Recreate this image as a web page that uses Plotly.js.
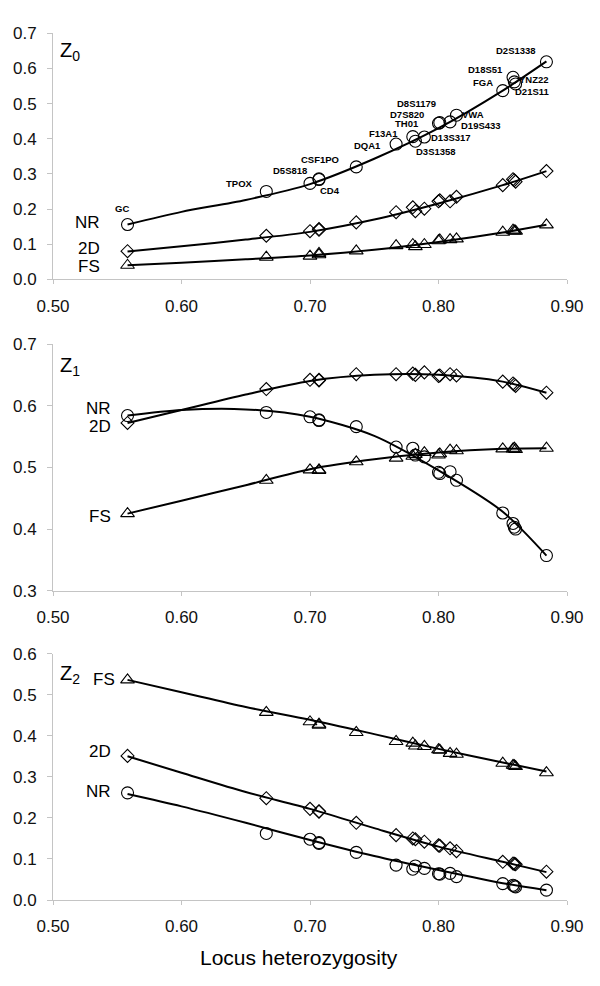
<!DOCTYPE html>
<html>
<head>
<meta charset="utf-8">
<script src="https://cdn.plot.ly/plotly-3.0.1.min.js"></script>
<style>
  html, body { margin: 0; padding: 0; background: #fff; }
  #chart { width: 600px; height: 986px; }
</style>
</head>
<body>
<div id="chart"></div>
<script>
// ---- Data ----
const loci = ["GC","TPOX","D5S818","CSF1PO","CD4","DQA1","F13A1","TH01","D3S1358","D13S317",
              "D7S820","D8S1179","D19S433","VWA","FGA","D18S51","YNZ22","D21S11","D2S1338"];
const heterozygosity = [0.558,0.666,0.700,0.707,0.707,0.736,0.767,0.780,0.782,0.789,
                        0.800,0.801,0.809,0.814,0.850,0.858,0.859,0.860,0.884];

// Z0
const z0_NR = [0.156,0.250,0.273,0.286,0.284,0.320,0.385,0.406,0.393,0.405,0.444,0.446,0.448,0.467,0.537,0.575,0.562,0.556,0.619];
const z0_2D = [0.080,0.124,0.137,0.143,0.141,0.162,0.191,0.205,0.194,0.201,0.222,0.225,0.222,0.235,0.268,0.285,0.282,0.278,0.308];
const z0_FS = [0.040,0.063,0.066,0.074,0.070,0.081,0.096,0.099,0.093,0.099,0.110,0.112,0.113,0.115,0.134,0.140,0.138,0.137,0.155];
// Z1
const z1_NR = [0.584,0.589,0.582,0.577,0.576,0.566,0.533,0.531,0.520,0.517,0.492,0.490,0.493,0.479,0.426,0.409,0.403,0.400,0.357];
const z1_2D = [0.572,0.627,0.642,0.642,0.641,0.651,0.651,0.652,0.650,0.654,0.648,0.649,0.651,0.649,0.639,0.636,0.634,0.632,0.621];
const z1_FS = [0.425,0.479,0.496,0.496,0.495,0.509,0.515,0.518,0.521,0.524,0.520,0.522,0.528,0.527,0.530,0.530,0.531,0.529,0.531];
// Z2
const z2_NR = [0.261,0.162,0.148,0.138,0.140,0.116,0.085,0.075,0.083,0.077,0.064,0.063,0.065,0.057,0.040,0.036,0.034,0.032,0.024];
const z2_2D = [0.351,0.248,0.222,0.215,0.216,0.188,0.158,0.150,0.148,0.142,0.133,0.132,0.126,0.119,0.093,0.089,0.088,0.087,0.069];
const z2_FS = [0.536,0.457,0.434,0.426,0.428,0.408,0.386,0.382,0.375,0.374,0.366,0.365,0.357,0.355,0.333,0.328,0.327,0.325,0.310];

// Fitted curves
const curveX   = [0.558,0.60,0.65,0.70,0.75,0.80,0.85,0.884];
const c0_NR = [0.156,0.192,0.226,0.271,0.343,0.430,0.537,0.620];
const c0_2D = [0.079,0.094,0.113,0.135,0.170,0.216,0.268,0.308];
const c0_FS = [0.040,0.047,0.057,0.068,0.084,0.106,0.133,0.155];
const c1_NR = [0.584,0.593,0.594,0.582,0.551,0.495,0.428,0.357];
const c1_2D = [0.572,0.593,0.618,0.640,0.650,0.650,0.639,0.621];
const c1_FS = [0.425,0.446,0.471,0.497,0.513,0.524,0.530,0.531];
const c2_NR = [0.258,0.228,0.188,0.146,0.107,0.073,0.041,0.024];
const c2_2D = [0.350,0.310,0.263,0.222,0.175,0.130,0.093,0.068];
const c2_FS = [0.536,0.506,0.470,0.439,0.404,0.368,0.335,0.313];

const seriesNames = ["NR","2D","FS"];
const xTitle = "Locus heterozygosity";

// ---- Styling ----
const FONT = "Liberation Sans, Arial, Helvetica, sans-serif";
const symbols = {NR: "circle-open", "2D": "diamond-open", FS: "triangle-up-open"};
const sizes = {NR: 12, "2D": 10, FS: 12};

const panels = [
  {xa: "x",  ya: "y",  curves: {NR: c0_NR, "2D": c0_2D, FS: c0_FS}, pts: {NR: z0_NR, "2D": z0_2D, FS: z0_FS}},
  {xa: "x2", ya: "y2", curves: {NR: c1_NR, "2D": c1_2D, FS: c1_FS}, pts: {NR: z1_NR, "2D": z1_2D, FS: z1_FS}},
  {xa: "x3", ya: "y3", curves: {NR: c2_NR, "2D": c2_2D, FS: c2_FS}, pts: {NR: z2_NR, "2D": z2_2D, FS: z2_FS}}
];

const traces = [];
panels.forEach(p => {
  seriesNames.forEach(s => {
    traces.push({x: curveX, y: p.curves[s], xaxis: p.xa, yaxis: p.ya, type: "scatter", mode: "lines",
      line: {color: "#000", width: 2, shape: "spline", smoothing: 0.8}, hoverinfo: "skip", showlegend: false});
  });
  seriesNames.forEach(s => {
    traces.push({x: heterozygosity, y: p.pts[s], xaxis: p.xa, yaxis: p.ya, type: "scatter", mode: "markers",
      marker: {symbol: symbols[s], size: sizes[s], color: "#000", line: {width: 1.1, color: "#000"}},
      text: loci, showlegend: false});
  });
});

function xax(anchor) {
  return {anchor: anchor, domain: [0, 1], range: [0.5, 0.9], tick0: 0.5, dtick: 0.1, tickformat: ".2f",
    showgrid: false, zeroline: false, showline: true, linecolor: "#c4c4c4", linewidth: 1,
    ticks: "outside", ticklen: 4, tickcolor: "#c4c4c4", ticklabelstandoff: 7,
    tickfont: {family: FONT, size: 17, color: "#111"}};
}
function yax(anchor, dom, rng, dt) {
  return {anchor: anchor, domain: dom, range: rng, dtick: dt, tick0: 0, tickformat: ".1f",
    showgrid: false, zeroline: false, showline: true, linecolor: "#c4c4c4", linewidth: 1,
    ticks: "outside", ticklen: 5, tickcolor: "#c4c4c4", ticklabelstandoff: 7,
    tickfont: {family: FONT, size: 17, color: "#111"}};
}

const annotations = [];
// Locus labels on the Z0 NR curve: [xshift, yshift]
const labelShift = [[-6,16],[-27,8],[-20,13],[1,19.5],[11,-11],[11,21],[-13,11],[-6,13],[21,-10],[27,-1],
                    [-32,8.5],[-23,19.5],[31,-4],[17,1],[-20,8],[-28,8],[20,2.5],[17,-8],[-30,11]];
loci.forEach((name, i) => {
  annotations.push({xref: "x", yref: "y", x: heterozygosity[i], y: z0_NR[i], text: "<b>" + name + "</b>",
    showarrow: false, xanchor: "center", yanchor: "middle", xshift: labelShift[i][0], yshift: labelShift[i][1],
    font: {family: FONT, size: 9.5, color: "#000"}});
});

// Series labels at the left end of each panel
const seriesLabelShift = [
  {NR: [-26, 2.5], "2D": [-26, 3], FS: [-26, -1]},
  {NR: [-15, 7.5], "2D": [-15, -3.5], FS: [-15, -3]},
  {NR: [-15, 1], "2D": [-15, 4], FS: [-11, 0]}
];
panels.forEach((p, k) => {
  seriesNames.forEach(s => {
    annotations.push({xref: p.xa, yref: p.ya, x: heterozygosity[0], y: p.pts[s][0], text: s, showarrow: false,
      xanchor: "right", yanchor: "middle", xshift: seriesLabelShift[k][s][0], yshift: seriesLabelShift[k][s][1],
      font: {family: FONT, size: 17, color: "#000"}});
  });
});

// Panel titles Z0, Z1, Z2
const zTitles = ["Z<sub>0</sub>", "Z<sub>1</sub>", "Z<sub>2</sub>"];
const zTop = [0.7, 0.7, 0.6];
panels.forEach((p, k) => {
  annotations.push({xref: p.xa, yref: p.ya, x: 0.5, y: zTop[k], text: zTitles[k], showarrow: false,
    xanchor: "left", yanchor: "top", xshift: 5, yshift: [-4, -8, -6][k],
    font: {family: FONT, size: 20, color: "#000"}});
});

// x-axis title
annotations.push({xref: "paper", yref: "paper", x: 0.478, y: 0.0284, text: xTitle, showarrow: false,
  xanchor: "center", yanchor: "middle", font: {family: FONT, size: 21, color: "#000"}});

const layout = {
  width: 600, height: 986,
  margin: {l: 53, r: 33, t: 0, b: 0},
  paper_bgcolor: "#fff", plot_bgcolor: "#fff",
  showlegend: false,
  font: {family: FONT, color: "#000"},
  xaxis: xax("y"), xaxis2: xax("y2"), xaxis3: xax("y3"),
  yaxis: yax("x", [0.7167, 0.9662], [0, 0.7], 0.1),
  yaxis2: yax("x2", [0.4009, 0.6511], [0.3, 0.7], 0.1),
  yaxis3: yax("x3", [0.0872, 0.3371], [0, 0.6], 0.1),
  annotations: annotations
};

Plotly.newPlot("chart", traces, layout, {displayModeBar: false, staticPlot: true});
</script>
</body>
</html>
